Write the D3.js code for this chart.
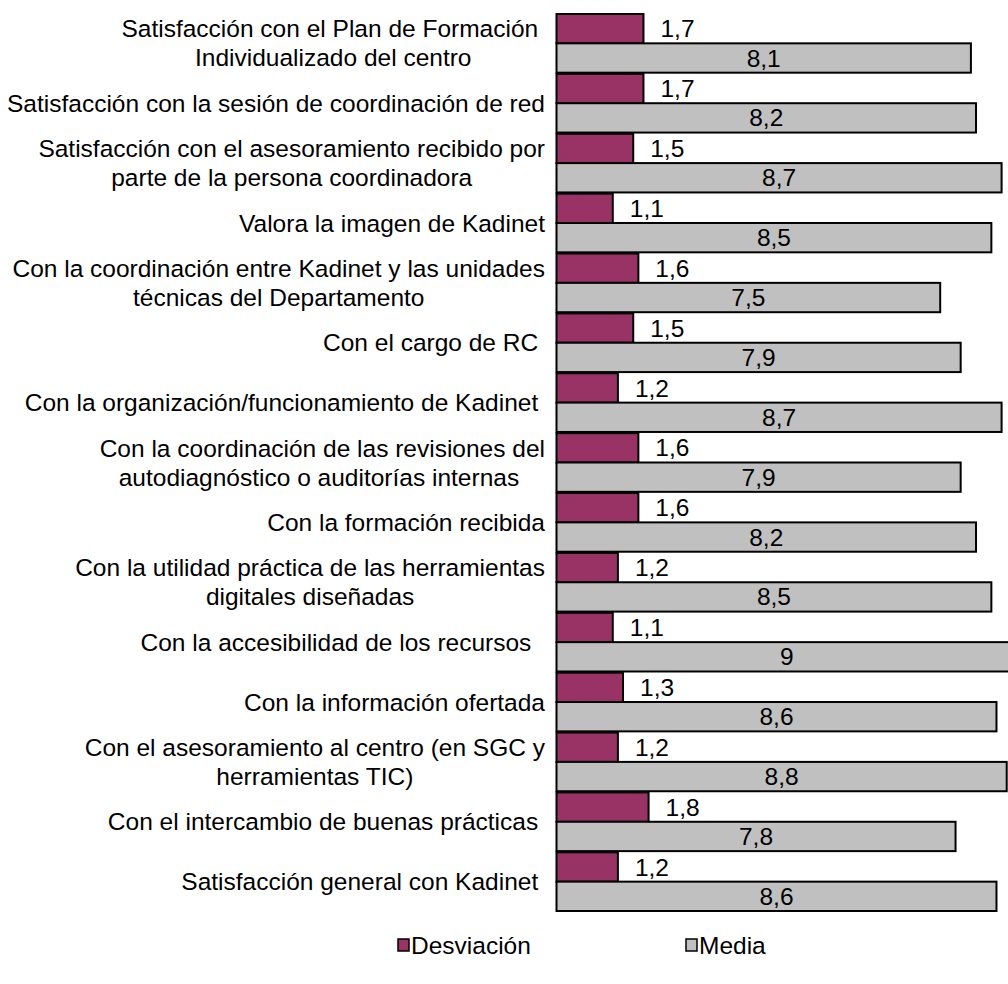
<!DOCTYPE html>
<html>
<head>
<meta charset="utf-8">
<script src="https://cdn.jsdelivr.net/npm/d3@7"></script>
<style>
  body { margin: 0; background: #fff; }
  svg { display: block; font-family: "Liberation Sans", Arial, sans-serif; }
  text { white-space: pre; }
</style>
</head>
<body>
<svg id="chart" width="1008" height="984"></svg>
<script>
// categories (multi-line labels as arrays of lines)
const categories = [
  ['Satisfacción con el Plan de Formación ', 'Individualizado del centro'],
  ['Satisfacción con la sesión de coordinación de red'],
  ['Satisfacción con el asesoramiento recibido por', 'parte de la persona coordinadora'],
  ['Valora la imagen de Kadinet'],
  ['Con la coordinación entre Kadinet y las unidades', 'técnicas del Departamento'],
  ['Con el cargo de RC '],
  ['Con la organización/funcionamiento de Kadinet '],
  ['Con la coordinación de las revisiones del', 'autodiagnóstico o auditorías internas '],
  ['Con la formación recibida'],
  ['Con la utilidad práctica de las herramientas', 'digitales diseñadas'],
  ['Con la accesibilidad de los recursos  '],
  ['Con la información ofertada'],
  ['Con el asesoramiento al centro (en SGC y', 'herramientas TIC)'],
  ['Con el intercambio de buenas prácticas '],
  ['Satisfacción general con Kadinet '],
];
const desviacion = [1.7, 1.7, 1.5, 1.1, 1.6, 1.5, 1.2, 1.6, 1.6, 1.2, 1.1, 1.3, 1.2, 1.8, 1.2];
const media = [8.1, 8.2, 8.7, 8.5, 7.5, 7.9, 8.7, 7.9, 8.2, 8.5, 9, 8.6, 8.8, 7.8, 8.6];
const seriesNames = ['Desviación', 'Media'];
const colors = ['#993366', '#c0c0c0'];

const svg = d3.select('#chart');
const fontSize = 24.5;
const x0 = 556.5;
const labelRight = 545;

const x = d3.scaleLinear().domain([0, 1]).range([x0, x0 + 51.16]);
const y = d3.scaleBand()
  .domain(d3.range(categories.length))
  .range([14, 911])
  .paddingInner(0.02);
const ySub = d3.scaleBand()
  .domain([0, 1])
  .range([0, y.bandwidth()]);

const fmt = v => String(v).replace('.', ',');

const groups = svg.selectAll('g.grp')
  .data(categories.map((c, i) => ({ c, i, vals: [desviacion[i], media[i]] })))
  .join('g')
  .attr('class', 'grp')
  .attr('transform', d => `translate(0,${y(d.i)})`);

groups.selectAll('rect')
  .data(d => d.vals.map((v, s) => ({ v, s })))
  .join('rect')
  .attr('x', x(0))
  .attr('y', d => ySub(d.s))
  .attr('width', d => x(d.v) - x(0))
  .attr('height', ySub.bandwidth())
  .attr('fill', d => colors[d.s])
  .attr('stroke', '#000')
  .attr('stroke-width', 2);

// value labels
groups.selectAll('text.val')
  .data(d => d.vals.map((v, s) => ({ v, s })))
  .join('text')
  .attr('class', 'val')
  .attr('x', d => d.s === 0 ? x(d.v) + 17 : (x(0) + x(d.v)) / 2)
  .attr('y', d => ySub(d.s) + ySub.bandwidth() / 2)
  .attr('dy', '0.35em')
  .attr('text-anchor', d => d.s === 0 ? 'start' : 'middle')
  .attr('font-size', fontSize)
  .attr('fill', '#000')
  .text(d => fmt(d.v));

// category labels: block right-aligned, lines centered inside block
const lineH = 29;
groups.each(function(d) {
  const g = d3.select(this);
  const cy = y.bandwidth() / 2;
  const n = d.c.length;
  const texts = d.c.map((line, k) => g.append('text')
    .attr('font-size', fontSize)
    .attr('fill', '#000')
    .attr('y', cy + (k - (n - 1) / 2) * lineH)
    .attr('dy', '0.35em')
    .text(line));
  const widths = texts.map(t => t.node().getComputedTextLength());
  const blockW = d3.max(widths);
  texts.forEach(t => t.attr('text-anchor', 'middle').attr('x', labelRight - blockW / 2));
});

// axis line
svg.append('line')
  .attr('x1', x(0)).attr('x2', x(0))
  .attr('y1', y.range()[0]).attr('y2', y.range()[1])
  .attr('stroke', '#000').attr('stroke-width', 1);

// legend
const legendX = [398, 686];
const legend = svg.selectAll('g.leg')
  .data(seriesNames)
  .join('g')
  .attr('class', 'leg')
  .attr('transform', (d, i) => `translate(${legendX[i]},945)`);
legend.append('rect')
  .attr('x', 0).attr('y', -6)
  .attr('width', 11).attr('height', 12)
  .attr('fill', (d, i) => colors[i])
  .attr('stroke', '#000').attr('stroke-width', 1.5);
legend.append('text')
  .attr('x', 13)
  .attr('dy', '0.35em')
  .attr('font-size', fontSize)
  .text(d => d);
</script>
</body>
</html>
